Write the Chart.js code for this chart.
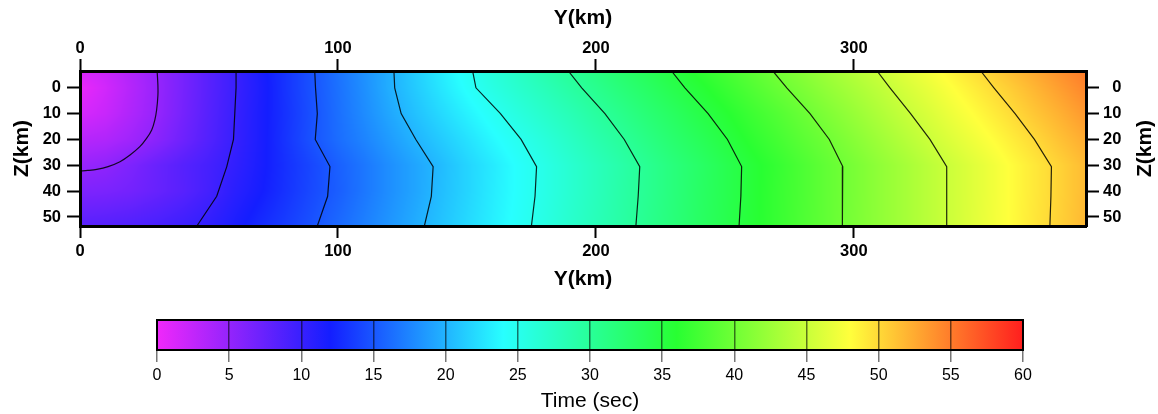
<!DOCTYPE html>
<html>
<head>
<meta charset="utf-8">
<script src="https://cdn.jsdelivr.net/npm/chart.js@4.4.1/dist/chart.umd.min.js"></script>
<style>
  html, body { margin: 0; padding: 0; background: #fff; }
  #main { position: absolute; left: 0; top: 0; }
  #bar { position: absolute; left: 0; top: 296px; }
</style>
</head>
<body>
<canvas id="main" width="1158" height="296"></canvas>
<canvas id="bar" width="1158" height="118"></canvas>
<script>
const FONT = "'Liberation Sans', Arial, Helvetica, sans-serif";

// travel time grid (sec): columns = distance Y (km), rows = depth Z (km)
const distKm = [0, 10, 20, 30, 40, 50, 60, 70, 80, 90, 100, 110, 120, 130, 140, 150, 160, 170, 180, 190,
  200, 210, 220, 230, 240, 250, 260, 270, 280, 290, 300, 310, 320, 330, 340, 350, 360, 370, 380, 390];
const depthKm = [-6.5, 0, 10, 20, 30, 40, 53.5];
const tTop = [1.3, 2.1, 3.5, 5.0, 6.6, 8.3, 9.9, 11.6, 13.2, 14.8, 16.5, 18.1, 19.7, 21.4, 23.0, 24.6, 26.1, 27.4, 28.8, 30.1,
  31.3, 32.6, 33.8, 35.1, 36.4, 37.6, 38.9, 40.2, 41.4, 42.7, 43.9, 45.1, 46.4, 47.6, 48.9, 50.1, 51.4, 52.6, 53.9, 55.1];
const t0 = [0.3, 1.7, 3.3, 4.9, 6.6, 8.3, 9.9, 11.5, 13.2, 14.8, 16.4, 18.0, 19.7, 21.2, 22.7, 24.2, 25.6, 26.9, 28.1, 29.4,
  30.6, 31.9, 33.1, 34.4, 35.6, 36.9, 38.2, 39.5, 40.7, 42.0, 43.2, 44.4, 45.7, 46.9, 48.2, 49.4, 50.6, 51.9, 53.2, 54.5];
const t10 = [1.4, 2.2, 3.6, 5.0, 6.7, 8.4, 10.0, 11.6, 13.1, 14.7, 16.3, 17.8, 19.3, 20.7, 22.0, 23.3, 24.6, 25.9, 27.1, 28.3,
  29.6, 30.8, 32.1, 33.3, 34.6, 35.8, 37.1, 38.3, 39.6, 40.9, 42.2, 43.5, 44.8, 46.0, 47.3, 48.5, 49.7, 51.0, 52.2, 53.5];
const t20 = [3.1, 3.5, 4.4, 5.6, 7.1, 8.6, 10.1, 11.6, 13.2, 14.8, 16.2, 17.4, 18.7, 20.0, 21.2, 22.4, 23.7, 24.9, 26.1, 27.4,
  28.7, 29.9, 31.2, 32.5, 33.7, 35.0, 36.3, 37.5, 38.8, 40.0, 41.3, 42.6, 43.9, 45.2, 46.4, 47.6, 48.8, 50.0, 51.3, 52.5];
const t30 = [4.8, 5.3, 6.3, 7.4, 8.4, 9.3, 10.4, 11.7, 13.0, 14.2, 15.5, 16.7, 18.0, 19.2, 20.4, 21.7, 22.9, 24.2, 25.4, 26.7,
  27.9, 29.1, 30.4, 31.7, 32.9, 34.2, 35.5, 36.7, 38.0, 39.3, 40.5, 41.8, 43.0, 44.3, 45.5, 46.7, 48.0, 49.2, 50.4, 51.7];
const t40 = [6.2, 6.4, 6.8, 7.5, 8.3, 9.4, 10.8, 11.9, 13.1, 14.3, 15.4, 16.7, 18.0, 19.2, 20.5, 21.7, 23.0, 24.2, 25.4, 26.7,
  27.9, 29.2, 30.4, 31.7, 33.0, 34.2, 35.5, 36.8, 38.0, 39.3, 40.5, 41.8, 43.0, 44.3, 45.5, 46.7, 48.0, 49.2, 50.4, 51.7];
const tBot = [8.3, 8.5, 8.8, 9.2, 9.8, 10.5, 11.6, 12.7, 13.7, 14.8, 16.0, 17.2, 18.4, 19.6, 20.8, 22.0, 23.2, 24.4, 25.6, 26.9,
  28.1, 29.3, 30.6, 31.8, 33.1, 34.3, 35.6, 36.8, 38.1, 39.3, 40.6, 41.8, 43.0, 44.3, 45.5, 46.8, 48.0, 49.3, 50.5, 51.8];
const timeRows = [tTop, t0, t10, t20, t30, t40, tBot];

// contour lines: Y (km) where each level crosses the depths below
const contourDepth = [-6.5, 0, 10, 20, 30.5, 42, 53.5];
const c10 = [60.5, 60.5, 60.0, 59.5, 56.9, 53.0, 45.3];
const c15 = [91.0, 91.3, 92.0, 91.2, 96.9, 96.0, 92.0];
const c20 = [121.7, 122.0, 124.5, 130.2, 136.9, 136.2, 133.5];
const c25 = [152.2, 153.5, 163.0, 171.0, 177.0, 176.4, 175.0];
const c30 = [189.3, 194.5, 203.5, 211.0, 217.0, 216.4, 215.5];
const c35 = [229.3, 234.5, 243.5, 251.0, 256.5, 256.2, 255.5];
const c40 = [268.6, 274.0, 283.0, 290.5, 295.7, 295.6, 295.5];
const c45 = [309.0, 314.0, 322.0, 329.5, 336.0, 336.0, 336.0];
const c50 = [349.2, 354.3, 362.5, 370.0, 376.6, 376.4, 376.0];
const contourLines = [c10, c15, c20, c25, c30, c35, c40, c45, c50];
// 5 sec contour curls round the source
const c5Dist = [29.9, 30.2, 30.2, 29.7, 29.0, 27.8, 25.8, 23.2, 19.4, 15.5, 10.9, 6.5, 3.0, 0];
const c5Depth = [-6.5, -1, 3, 8.6, 12.5, 16.3, 19.6, 22.8, 26.0, 28.6, 30.5, 31.6, 32.0, 32.2];

// colour table (rainbow)
const cptTimes = [0, 12, 24, 36, 48, 60];
const cptColors = [[240, 40, 250], [20, 30, 255], [40, 255, 255], [40, 255, 50], [255, 255, 60], [255, 30, 30]];

const yTicks = [0, 100, 200, 300];
const zTicks = [0, 10, 20, 30, 40, 50];
const barTicks = [0, 5, 10, 15, 20, 25, 30, 35, 40, 45, 50, 55, 60];

function seg(arr, v) {
  let i = 0;
  while (i < arr.length - 2 && v > arr[i + 1]) i++;
  return i;
}

function timeAt(d, z) {
  const i = seg(distKm, d), j = seg(depthKm, z);
  let fx = (d - distKm[i]) / (distKm[i + 1] - distKm[i]);
  let fz = (z - depthKm[j]) / (depthKm[j + 1] - depthKm[j]);
  fx = Math.min(Math.max(fx, 0), 1); fz = Math.min(Math.max(fz, 0), 1);
  const a = timeRows[j], b = timeRows[j + 1];
  const top = a[i] + (a[i + 1] - a[i]) * fx;
  const bot = b[i] + (b[i + 1] - b[i]) * fx;
  return top + (bot - top) * fz;
}

function cmap(t) {
  if (t <= cptTimes[0]) return cptColors[0];
  for (let i = 1; i < cptTimes.length; i++) {
    if (t <= cptTimes[i]) {
      const f = (t - cptTimes[i - 1]) / (cptTimes[i] - cptTimes[i - 1]);
      const a = cptColors[i - 1], b = cptColors[i];
      return [a[0] + (b[0] - a[0]) * f, a[1] + (b[1] - a[1]) * f, a[2] + (b[2] - a[2]) * f];
    }
  }
  return cptColors[cptColors.length - 1];
}

const heatPlugin = {
  id: 'heat',
  beforeDraw(chart) {
    const {ctx, chartArea: a, scales} = chart;
    const w = Math.round(a.right - a.left), h = Math.round(a.bottom - a.top);
    const img = ctx.createImageData(w, h);
    for (let py = 0; py < h; py++) {
      const z = scales.y.getValueForPixel(a.top + py + 0.5);
      for (let px = 0; px < w; px++) {
        const d = scales.x.getValueForPixel(a.left + px + 0.5);
        const c = cmap(timeAt(d, z));
        const k = (py * w + px) * 4;
        img.data[k] = c[0]; img.data[k + 1] = c[1]; img.data[k + 2] = c[2]; img.data[k + 3] = 255;
      }
    }
    ctx.putImageData(img, Math.round(a.left), Math.round(a.top));
  },
  afterDraw(chart) {
    // right hand axis title reads bottom-to-top like the left one
    const {ctx, chartArea: a} = chart;
    ctx.save();
    ctx.translate(1145, (a.top + a.bottom) / 2);
    ctx.rotate(-Math.PI / 2);
    ctx.font = 'bold 21px ' + FONT;
    ctx.fillStyle = '#000';
    ctx.textAlign = 'center';
    ctx.textBaseline = 'middle';
    ctx.fillText('Z(km)', 0, 0);
    ctx.restore();
  }
};

const tickFont = {family: FONT, size: 16.5, weight: 'bold'};
const titleFont = {family: FONT, size: 21, weight: 'bold'};
const border = {display: true, width: 3, color: '#000', z: 1};
const gridX = {drawOnChartArea: false, drawTicks: true, tickLength: 12, tickWidth: 2, tickColor: '#000'};
const gridZ = {drawOnChartArea: false, drawTicks: true, tickLength: 13, tickWidth: 2, tickColor: '#000'};

function xAxis(pos, h, pad, titlePad) {
  return {
    type: 'linear', position: pos, min: 0, max: 390,
    afterBuildTicks: s => { s.ticks = yTicks.map(v => ({value: v})); },
    afterFit: s => { s.height = h; s.paddingLeft = 0; s.paddingRight = 0; },
    grid: gridX, border: border,
    ticks: {font: tickFont, color: '#000', padding: pad, maxRotation: 0},
    title: {display: true, text: 'Y(km)', font: titleFont, color: '#000', padding: titlePad}
  };
}

function zAxis(pos, w, extra) {
  return Object.assign({
    type: 'linear', position: pos, min: -6.5, max: 53.5, reverse: true,
    afterBuildTicks: s => { s.ticks = zTicks.map(v => ({value: v})); },
    afterFit: s => { s.width = w; s.paddingTop = 0; s.paddingBottom = 0; },
    grid: gridZ, border: border
  }, extra);
}

const contourSets = contourLines.map((line, i) => ({
  label: (10 + 5 * i) + ' s',
  data: contourDepth.map((z, j) => ({x: line[j], y: z})),
  showLine: true, borderColor: 'rgba(0,0,0,0.85)', borderWidth: 1.2, pointRadius: 0, tension: 0
}));
contourSets.unshift({
  label: '5 s',
  data: c5Dist.map((d, j) => ({x: d, y: c5Depth[j]})),
  showLine: true, borderColor: 'rgba(0,0,0,0.85)', borderWidth: 1.2, pointRadius: 0, tension: 0.3
});

new Chart(document.getElementById('main'), {
  type: 'scatter',
  data: {datasets: contourSets},
  options: {
    responsive: false, animation: false, events: [],
    layout: {padding: 0},
    plugins: {legend: {display: false}, tooltip: {enabled: false}},
    scales: {
      x: xAxis('bottom', 70, 4, {top: 0, bottom: 4}),
      x2: xAxis('top', 71, 1, {top: 6, bottom: 0}),
      y: zAxis('left', 80, {
        ticks: {font: tickFont, color: '#000', padding: 6},
        title: {display: true, text: 'Z(km)', font: titleFont, color: '#000', padding: {top: 10, bottom: 0}}
      }),
      y2: zAxis('right', 72, {
        ticks: {font: tickFont, color: '#000', padding: 4, callback: v => (v < 10 ? '\u2007' : '') + v},
        title: {display: false}
      })
    }
  },
  plugins: [heatPlugin]
});

const barPlugin = {
  id: 'colorbar',
  beforeDraw(chart) {
    const {ctx, chartArea: a, scales} = chart;
    const g = ctx.createLinearGradient(scales.x.getPixelForValue(0), 0, scales.x.getPixelForValue(60), 0);
    cptTimes.forEach((t, i) => {
      const c = cptColors[i];
      g.addColorStop(t / 60, 'rgb(' + c[0] + ',' + c[1] + ',' + c[2] + ')');
    });
    ctx.fillStyle = g;
    ctx.fillRect(a.left, a.top, a.right - a.left, a.bottom - a.top);
  },
  afterDraw(chart) {
    const {ctx, chartArea: a} = chart;
    ctx.save();
    ctx.strokeStyle = '#000';
    ctx.lineWidth = 2;
    ctx.strokeRect(a.left, a.top, a.right - a.left, a.bottom - a.top);
    ctx.restore();
  }
};

new Chart(document.getElementById('bar'), {
  type: 'scatter',
  data: {datasets: []},
  options: {
    responsive: false, animation: false, events: [],
    layout: {padding: {left: 157, right: 135, top: 24, bottom: 0}},
    plugins: {legend: {display: false}, tooltip: {enabled: false}},
    scales: {
      x: {
        type: 'linear', min: 0, max: 60,
        afterBuildTicks: s => { s.ticks = barTicks.map(v => ({value: v})); },
        afterFit: s => { s.height = 64; s.paddingLeft = 0; s.paddingRight = 0; },
        grid: {drawOnChartArea: true, color: 'rgba(0,0,0,0.55)', lineWidth: 1.5, tickLength: 12, tickColor: '#777', tickWidth: 1.5},
        border: {display: false},
        ticks: {font: {family: FONT, size: 16}, color: '#000', padding: 4, maxRotation: 0},
        title: {display: true, text: 'Time (sec)', font: {family: FONT, size: 21}, color: '#000', padding: {top: 0, bottom: 0}}
      },
      y: {display: false, min: 0, max: 1}
    }
  },
  plugins: [barPlugin]
});
</script>
</body>
</html>
